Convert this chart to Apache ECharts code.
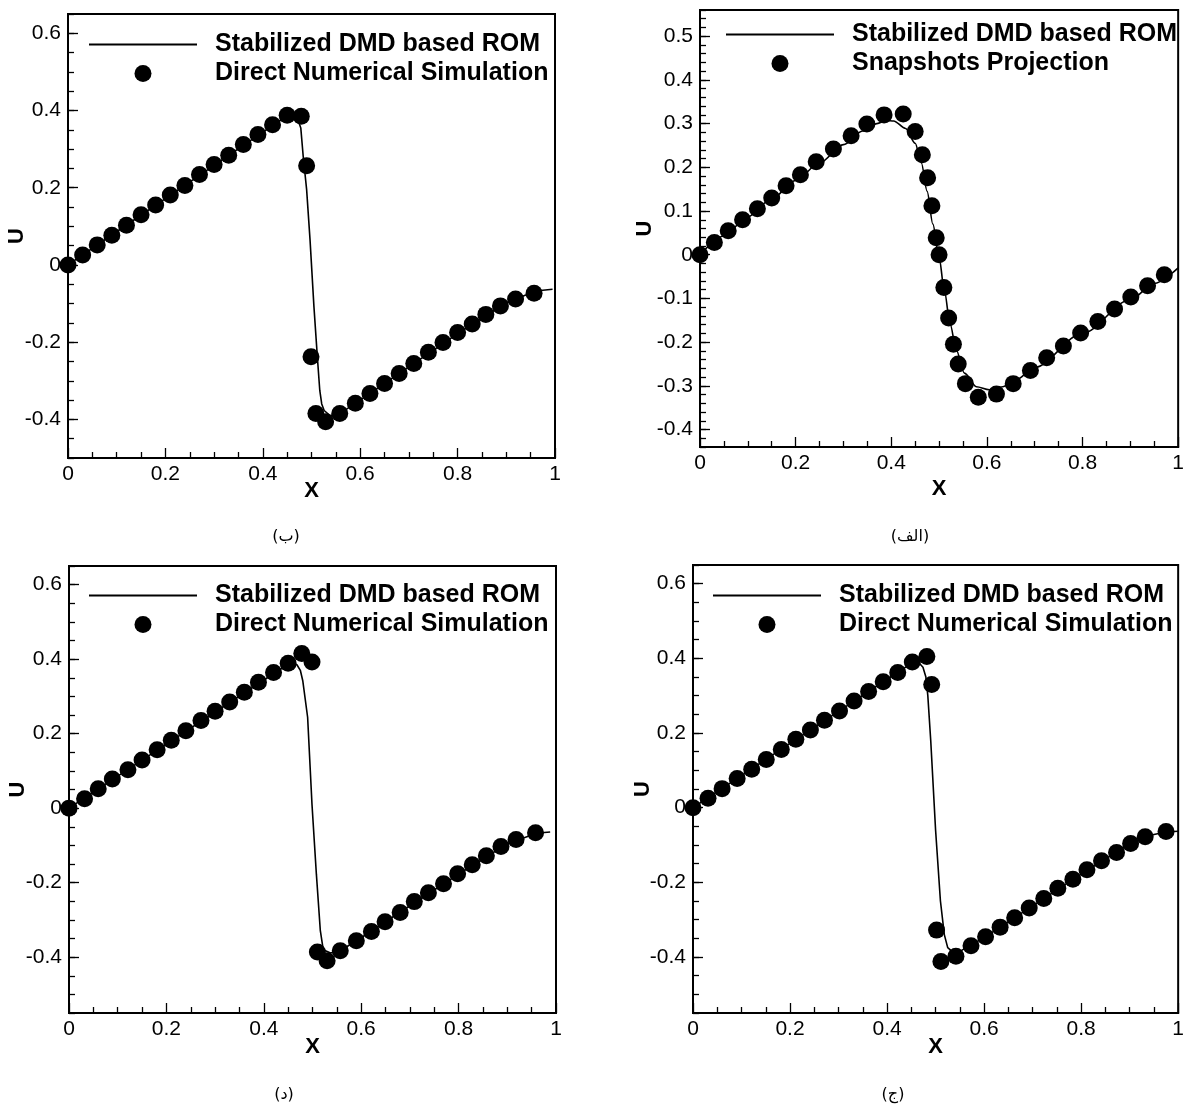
<!DOCTYPE html>
<html>
<head>
<meta charset="utf-8">
<title>DMD ROM vs DNS</title>
<script src="https://cdn.jsdelivr.net/npm/echarts@6/dist/echarts.min.js"></script>
<style>
  html, body { margin: 0; padding: 0; background: #fff; }
  #main { width: 1187px; height: 1106px; }
</style>
</head>
<body>
<div id="main"></div>
<script>
  // tick labels
  var uTicksWide = [-0.4, -0.2, 0, 0.2, 0.4, 0.6];
  var uTicksNarrow = [-0.4, -0.3, -0.2, -0.1, 0, 0.1, 0.2, 0.3, 0.4, 0.5];

  // (ب) top left
  var romB = [[0,0],[0.1,0.086],[0.2,0.172],[0.3,0.258],[0.4,0.344],[0.44,0.378],[0.452,0.389],[0.465,0.385],
    [0.472,0.377],[0.478,0.355],[0.483,0.281],[0.49,0.195],[0.497,0.065],[0.505,-0.108],[0.512,-0.238],
    [0.517,-0.325],[0.521,-0.36],[0.526,-0.377],[0.538,-0.39],[0.558,-0.385],[0.6,-0.35],[0.7,-0.264],
    [0.8,-0.178],[0.9,-0.098],[0.94,-0.078],[0.97,-0.066],[0.995,-0.063]];
  var dnsB = [[0,0],[0.03,0.026],[0.06,0.052],[0.09,0.077],[0.12,0.103],[0.15,0.13],[0.18,0.155],[0.21,0.181],
    [0.24,0.206],[0.27,0.234],[0.30,0.26],[0.33,0.284],[0.36,0.312],[0.39,0.338],[0.42,0.363],[0.45,0.388],
    [0.479,0.385],[0.49,0.257],[0.499,-0.238],[0.509,-0.385],[0.529,-0.406],[0.558,-0.385],[0.59,-0.358],
    [0.62,-0.333],[0.65,-0.307],[0.68,-0.281],[0.71,-0.255],[0.74,-0.226],[0.77,-0.201],[0.80,-0.175],
    [0.83,-0.153],[0.858,-0.128],[0.888,-0.106],[0.919,-0.088],[0.957,-0.073]];

  // (الف) top right
  var romAlef = [[0,0],[0.05,0.043],[0.1,0.087],[0.15,0.128],[0.2,0.17],[0.25,0.21],[0.3,0.252],[0.34,0.283],
    [0.37,0.3],[0.39,0.307],[0.405,0.306],[0.43,0.289],[0.45,0.255],[0.463,0.21],[0.475,0.145],[0.487,0.07],
    [0.5,-0.006],[0.511,-0.082],[0.523,-0.158],[0.536,-0.218],[0.553,-0.271],[0.578,-0.302],[0.605,-0.309],
    [0.633,-0.302],[0.661,-0.286],[0.7,-0.258],[0.8,-0.18],[0.9,-0.103],[0.95,-0.066],[1.0,-0.03]];
  var snapAlef = [[0,0],[0.03,0.028],[0.059,0.055],[0.089,0.08],[0.12,0.105],[0.15,0.13],[0.18,0.158],
    [0.21,0.183],[0.243,0.213],[0.279,0.242],[0.316,0.272],[0.349,0.299],[0.385,0.32],[0.425,0.322],
    [0.45,0.282],[0.465,0.229],[0.476,0.176],[0.485,0.112],[0.494,0.039],[0.5,0.0],[0.51,-0.075],
    [0.52,-0.145],[0.53,-0.205],[0.54,-0.25],[0.555,-0.295],[0.582,-0.326],[0.62,-0.319],[0.655,-0.295],
    [0.691,-0.265],[0.725,-0.236],[0.76,-0.209],[0.796,-0.179],[0.832,-0.153],[0.867,-0.124],[0.901,-0.097],
    [0.936,-0.071],[0.971,-0.046]];

  // (د) bottom left
  var romD = [[0,0],[0.1,0.086],[0.2,0.172],[0.3,0.258],[0.4,0.344],[0.44,0.378],[0.455,0.388],[0.468,0.385],
    [0.475,0.37],[0.48,0.342],[0.49,0.244],[0.499,0.009],[0.508,-0.178],[0.516,-0.328],[0.522,-0.38],
    [0.537,-0.389],[0.557,-0.383],[0.6,-0.348],[0.7,-0.262],[0.8,-0.177],[0.9,-0.096],[0.95,-0.072],
    [0.97,-0.066],[0.988,-0.064]];
  var dnsD = [[0,0],[0.032,0.025],[0.06,0.052],[0.089,0.078],[0.121,0.103],[0.15,0.129],[0.181,0.157],
    [0.21,0.182],[0.24,0.208],[0.271,0.235],[0.30,0.26],[0.33,0.285],[0.36,0.311],[0.389,0.338],[0.42,0.364],
    [0.45,0.389],[0.478,0.415],[0.499,0.392],[0.51,-0.386],[0.53,-0.41],[0.557,-0.383],[0.59,-0.356],
    [0.621,-0.331],[0.649,-0.305],[0.68,-0.28],[0.709,-0.251],[0.738,-0.227],[0.769,-0.203],[0.798,-0.176],
    [0.828,-0.152],[0.857,-0.128],[0.887,-0.103],[0.918,-0.084],[0.958,-0.066]];

  // (ج) bottom right
  var romJ = [[0,0],[0.1,0.086],[0.2,0.172],[0.3,0.258],[0.4,0.344],[0.44,0.378],[0.458,0.388],[0.467,0.386],
    [0.474,0.376],[0.48,0.35],[0.484,0.3],[0.49,0.18],[0.5,-0.06],[0.51,-0.25],[0.518,-0.34],[0.525,-0.375],
    [0.535,-0.386],[0.55,-0.385],[0.6,-0.348],[0.7,-0.263],[0.8,-0.178],[0.9,-0.097],[0.95,-0.072],
    [0.975,-0.065],[1.0,-0.063]];
  var dnsJ = [[0,0],[0.031,0.025],[0.06,0.051],[0.091,0.078],[0.121,0.103],[0.151,0.129],[0.182,0.156],
    [0.212,0.183],[0.242,0.208],[0.271,0.234],[0.302,0.259],[0.332,0.286],[0.362,0.311],[0.392,0.337],
    [0.422,0.362],[0.452,0.39],[0.482,0.405],[0.492,0.33],[0.502,-0.328],[0.511,-0.412],[0.542,-0.398],
    [0.573,-0.37],[0.603,-0.346],[0.633,-0.32],[0.663,-0.295],[0.693,-0.269],[0.723,-0.243],[0.752,-0.216],
    [0.783,-0.192],[0.812,-0.166],[0.842,-0.142],[0.873,-0.12],[0.902,-0.096],[0.932,-0.078],[0.975,-0.064]];

  var ROM = 'Stabilized DMD based ROM';
  var DNS = 'Direct Numerical Simulation';
  var SNAP = 'Snapshots Projection';

  var panels = [
    {box: {left: 68, top: 14, width: 487, height: 444}, min: -0.5, max: 0.65, ticks: uTicksWide, minor: 0.05,
      line: romB, dots: dnsB, dotName: DNS, smooth: false, legend: {left: 84, top: 27}, uGap: 40, xGap: 22,
      caption: '(ب)', capX: 286, capY: 537},
    {box: {left: 700, top: 10, width: 479, height: 437}, min: -0.44, max: 0.56, ticks: uTicksNarrow, minor: 0.02,
      line: romAlef, dots: snapAlef, dotName: SNAP, smooth: 0.3, legend: {left: 721, top: 17}, uGap: 44, xGap: 31,
      caption: '(الف)', capX: 910, capY: 537},
    {box: {left: 69, top: 566, width: 487, height: 447}, min: -0.55, max: 0.65, ticks: uTicksWide, minor: 0.05,
      line: romD, dots: dnsD, dotName: DNS, smooth: false, legend: {left: 84, top: 578}, uGap: 40, xGap: 23,
      caption: '(د)', capX: 284, capY: 1095},
    {box: {left: 693, top: 565, width: 486, height: 448}, min: -0.55, max: 0.65, ticks: uTicksWide, minor: 0.05,
      line: romJ, dots: dnsJ, dotName: DNS, smooth: false, legend: {left: 708, top: 578}, uGap: 39, xGap: 23,
      caption: '(ج)', capX: 893, capY: 1095}
  ];

  var FONT = '"Liberation Sans", Arial, sans-serif';
  var fmt = function (v) { return String(+v.toFixed(2)); };

  var option = {
    animation: false,
    backgroundColor: '#fff',
    grid: [], xAxis: [], yAxis: [], series: [], legend: [], graphic: []
  };

  panels.forEach(function (p, i) {
    option.grid.push(Object.assign({show: true, borderColor: '#000', borderWidth: 2, backgroundColor: 'transparent'}, p.box));
    option.xAxis.push({
      type: 'value', gridIndex: i, min: 0, max: 1, interval: 0.2,
      name: 'X', nameLocation: 'middle', nameGap: p.xGap, nameMoveOverlap: false,
      nameTextStyle: {fontFamily: FONT, fontWeight: 'bold', fontSize: 22, color: '#000'},
      axisLine: {show: true, onZero: false, lineStyle: {color: '#000', width: 2}},
      axisTick: {show: true, inside: true, length: 10, lineStyle: {color: '#000', width: 1.3}},
      minorTick: {show: true, splitNumber: 4, length: 6, lineStyle: {color: '#000', width: 1.3}},
      axisLabel: {fontFamily: FONT, fontSize: 21, color: '#000', margin: 6, formatter: fmt},
      splitLine: {show: false}
    });
    // labels and long ticks
    option.yAxis.push({
      type: 'value', gridIndex: i, min: p.min, max: p.max,
      name: 'U', nameLocation: 'middle', nameGap: p.uGap, nameMoveOverlap: false,
      nameTextStyle: {fontFamily: FONT, fontWeight: 'bold', fontSize: 22, color: '#000'},
      axisLine: {show: true, onZero: false, lineStyle: {color: '#000', width: 2}},
      axisTick: {show: true, inside: true, length: 10, customValues: p.ticks, lineStyle: {color: '#000', width: 1.3}},
      axisLabel: {fontFamily: FONT, fontSize: 21, color: '#000', margin: 7, customValues: p.ticks, formatter: fmt},
      splitLine: {show: false}
    });
    // short ticks
    option.yAxis.push({
      type: 'value', gridIndex: i, min: p.min, max: p.max, interval: p.minor, position: 'left',
      axisLine: {show: false, onZero: false},
      axisTick: {show: true, inside: true, length: 6, lineStyle: {color: '#000', width: 1.3}},
      axisLabel: {show: false},
      splitLine: {show: false}
    });
    option.series.push({
      name: ROM, type: 'line', xAxisIndex: i, yAxisIndex: i * 2, data: p.line,
      symbol: 'none', smooth: p.smooth, smoothMonotone: 'x',
      lineStyle: {color: '#000', width: 1.6}, itemStyle: {color: '#000'}, z: 3
    });
    option.series.push({
      name: p.dotName, type: 'scatter', xAxisIndex: i, yAxisIndex: i * 2, data: p.dots,
      symbol: 'circle', symbolSize: 17, itemStyle: {color: '#000', opacity: 1}, z: 2
    });
    option.legend.push({
      data: [{name: ROM, icon: 'path://M0,0H108V1.8H0Z'}, {name: p.dotName, icon: 'circle'}],
      orient: 'vertical', left: p.legend.left, top: p.legend.top,
      itemWidth: 108, itemHeight: 17, itemGap: 4, selectedMode: false,
      itemStyle: {opacity: 1},
      textStyle: {fontFamily: FONT, fontWeight: 'bold', fontSize: 25, color: '#000', lineHeight: 23, padding: [0, 0, 0, 13]}
    });
    option.graphic.push({
      type: 'text', x: p.capX, y: p.capY,
      style: {text: p.caption, align: 'center', verticalAlign: 'middle', fill: '#000', font: '16px "DejaVu Sans", sans-serif'}
    });
  });

  var chartDom = document.getElementById('main');
  var myChart = echarts.init(chartDom);
  option && myChart.setOption(option);
</script>
</body>
</html>
